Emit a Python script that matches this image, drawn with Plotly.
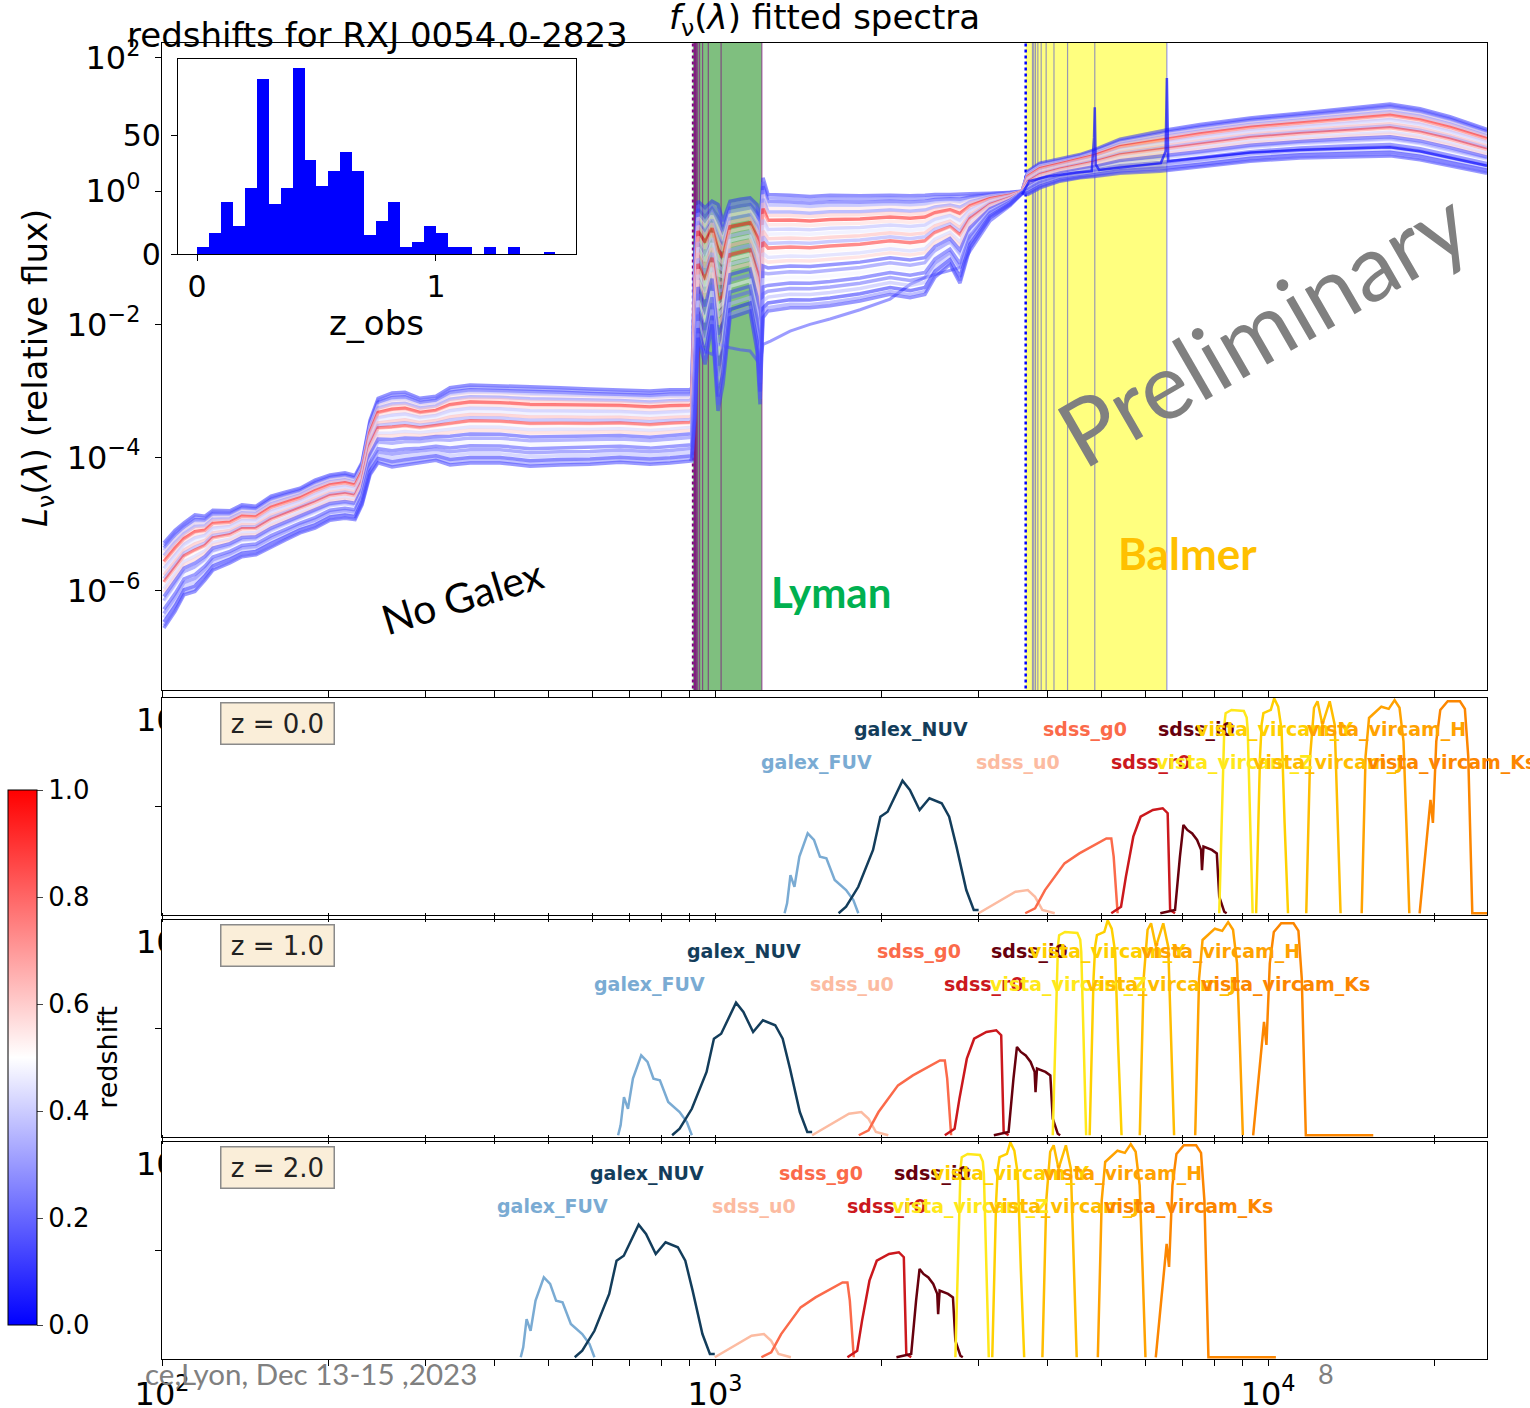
import numpy as np
import plotly.graph_objects as go
from plotly.colors import sample_colorscale

W, H = 1530, 1408
def px(x): return x / W
def py(y): return 1 - y / H

FONT = "DejaVu Sans"
BWR = [[0, "rgb(0,0,255)"], [0.5, "rgb(255,255,255)"], [1, "rgb(255,0,0)"]]

# ---------------- inset histogram (z_obs) ----------------
ZBIN_CENTER = [0.025, 0.075, 0.125, 0.175, 0.225, 0.275, 0.325, 0.375, 0.425, 0.475,
               0.525, 0.575, 0.625, 0.675, 0.725, 0.775, 0.825, 0.875, 0.925, 0.975,
               1.025, 1.075, 1.125, 1.175, 1.225, 1.275, 1.325, 1.375, 1.425, 1.475]
ZBIN_COUNT = [3, 9, 22, 12, 28, 74, 21, 28, 79, 40,
              29, 35, 43, 35, 8, 14, 22, 3, 5, 12,
              9, 3, 3, 0, 3, 0, 3, 0, 0, 1]

# ---------------- fitted spectra (log10 flux envelopes) ----------------
WAVE = [100.8, 105.6, 109.6, 114.7, 119.6, 123.6, 132.7, 139.5, 147.9, 157.5, 166.9, 177.7,
        189.1, 201.3, 214.2, 223.4, 230.0, 237.8, 245.9, 260.6, 275.0, 292.7, 312.9, 331.7,
        360.6, 408.5, 462.9, 524.4, 594.1, 673.2, 762.7, 829.2, 901.2, 908.0,
        920.1, 931.7, 959.3, 987.6, 1012.6, 1033.9, 1064.5, 1109.8, 1157.0, 1191.2, 1206.2,
        1221.3, 1247.0, 1367, 1485, 1614, 1829, 2073, 2253, 2397, 2499, 2660, 2773, 2892,
        3143, 3417, 3592, 3681, 3870, 4206, 4571, 4846, 5400, 6378, 6540, 7535, 9279,
        11430, 14070, 16620, 18830, 21330, 24890]
UPPER = [-5.28, -5.09, -4.98, -4.86, -4.88, -4.79, -4.80, -4.71, -4.73, -4.58, -4.52, -4.46,
         -4.34, -4.26, -4.23, -4.27, -4.07, -3.44, -3.11, -3.03, -3.02, -3.11, -3.08, -2.95,
         -2.91, -2.92, -2.94, -2.95, -2.97, -2.98, -3.00, -2.98, -2.98, -2.95,
         -0.90, -0.15, -0.25, -0.15, -0.20, -0.45, -0.15, -0.12, -0.10, -0.20, -0.50,
         0.20, -0.05, -0.06, -0.08, -0.06, -0.07, -0.06, -0.07, -0.06, -0.05, -0.05, -0.04, -0.04,
         -0.03, -0.02, 0.00, 0.30, 0.42, 0.48, 0.55, 0.62, 0.78, 0.90, 0.92, 1.00, 1.10,
         1.17, 1.25, 1.31, 1.24, 1.12, 0.93]
LOWER = [-6.56, -6.31, -6.06, -6.01, -5.84, -5.69, -5.58, -5.49, -5.46, -5.34, -5.24, -5.13,
         -5.06, -4.94, -4.91, -4.93, -4.71, -4.26, -4.08, -4.14, -4.11, -4.07, -4.04, -4.11,
         -4.08, -4.08, -4.13, -4.11, -4.10, -4.07, -4.10, -4.08, -4.05, -4.05,
         -3.40, -2.20, -2.60, -2.00, -3.30, -2.90, -1.90, -1.85, -1.80, -2.40, -3.20,
         -1.90, -1.80, -1.75, -1.75, -1.72, -1.65, -1.55, -1.60, -1.55, -1.29, -1.10, -1.38, -0.85,
         -0.40, -0.20, -0.03, -0.05, 0.05, 0.15, 0.20, 0.22, 0.27, 0.30, 0.31, 0.36, 0.45,
         0.50, 0.52, 0.53, 0.47, 0.38, 0.27]
# position of each plotted spectrum inside the envelope and its redshift
LINE_FRAC = [1.00, 0.97, 0.94, 0.91, 0.88, 0.85, 0.82, 0.78, 0.74, 0.70, 0.66, 0.62, 0.58,
             0.54, 0.50, 0.46, 0.42, 0.37, 0.32, 0.27, 0.22, 0.17, 0.12, 0.07, 0.03, 0.00]
LINE_Z = [0.08, 0.20, 0.12, 0.30, 0.55, 0.25, 0.62, 1.00, 0.58, 0.35, 0.45, 0.65, 0.30,
          0.95, 0.52, 0.40, 0.60, 0.10, 0.22, 0.48, 0.12, 0.18, 0.35, 0.05, 0.25, 0.10]
# lowest outlying spectrum
OUT_WAVE = [901.2, 908.0, 920.1, 931.7, 959.3, 987.6, 1012.6, 1064.5, 1109.8, 1157.0, 1206.2,
            1221.3, 1260, 1367, 1485, 1614, 1829, 2073, 2253, 2397, 2499, 2773, 2892, 3143,
            3417, 3592]
OUT_LOGF = [-4.05, -4.00, -2.80, -2.30, -2.40, -2.45, -2.30, -2.35, -2.38, -2.40, -2.60,
            -2.30, -2.25, -2.10, -2.00, -1.92, -1.78, -1.62, -1.40, -1.30, -1.25, -1.15, -0.90,
            -0.45, -0.22, -0.04]
OUT_Z = 0.15
# spectrum with Balmer emission spikes
EM_WAVE = [3592, 3700, 4000, 4500, 4800, 4846, 4861, 4880, 4950, 5500, 6400, 6530, 6563,
           6600, 7500, 9300, 11400, 14000, 16600, 18800, 21300, 24890]
EM_LOGF = [-0.05, 0.15, 0.22, 0.28, 0.30, 0.80, 1.26, 0.40, 0.32, 0.36, 0.42, 0.60, 1.70,
           0.45, 0.50, 0.58, 0.62, 0.64, 0.66, 0.60, 0.50, 0.38]
EM_Z = 0.03

LYMAN_LIMIT = 911.8
LYMAN_LINES = [918.1, 919.4, 920.9, 923.2, 926.2, 930.7, 937.8, 949.7, 972.5, 1025.7, 1215.7]
BALMER_LIMIT = 3646.0
BALMER_LINES = [3750.2, 3770.6, 3797.9, 3835.4, 3889.1, 3970.1, 4101.7, 4340.5, 4861.3, 6562.8]

# ---------------- filter transmission curves (rest frame at z=0) ----------------
FUV_WAVE = [1336, 1350, 1369, 1392, 1421, 1471, 1510, 1548, 1590, 1646, 1726, 1779, 1816]
FUV_T = [0.008, 0.054, 0.184, 0.13, 0.269, 0.376, 0.346, 0.269, 0.261, 0.161, 0.115, 0.069, 0.008]
NUV_WAVE = [1673, 1726, 1816, 1931, 1991, 2052, 2183, 2251, 2344, 2442, 2570, 2651, 2733, 2847, 2937, 2997]
NUV_T = [0.008, 0.038, 0.130, 0.30, 0.453, 0.476, 0.619, 0.576, 0.484, 0.538, 0.515, 0.453, 0.315, 0.115, 0.023, 0.023]
U0_WAVE = [2997, 3219, 3494, 3678, 3791, 3909, 4115]
U0_T = [0.008, 0.054, 0.107, 0.115, 0.084, 0.023, 0.008]
G0_WAVE = [3639, 3791, 3951, 4115, 4285, 4559, 4846, 5102, 5207, 5259, 5346]
G0_T = [0.008, 0.031, 0.115, 0.177, 0.238, 0.284, 0.323, 0.353, 0.353, 0.269, 0.008]
R0_WAVE = [5207, 5423, 5534, 5707, 5883, 6192, 6450, 6585, 6653, 6790]
R0_T = [0.008, 0.038, 0.177, 0.361, 0.453, 0.484, 0.492, 0.469, 0.023, 0.008]
I0_WAVE = [6386, 6790, 6930, 7031, 7146, 7293, 7443, 7568, 7597, 7644, 7917, 8080, 8162, 8334, 8418]
I0_T = [0.008, 0.023, 0.269, 0.415, 0.392, 0.376, 0.346, 0.30, 0.207, 0.315, 0.30, 0.284, 0.084, 0.015, 0.008]
VZ_WAVE = [8162, 8299, 8340, 8382, 8590, 9042, 9150, 9190, 9286, 9380]
VZ_T = [0.008, 0.73, 0.88, 0.93, 0.945, 0.94, 0.91, 0.853, 0.424, 0.008]
VY_WAVE = [9517, 9672, 9740, 9810, 10117, 10261, 10433, 10582, 10715, 10869]
VY_T = [0.008, 0.73, 0.88, 0.93, 0.945, 0.998, 0.96, 0.853, 0.424, 0.008]
VJ_WAVE = [11726, 11916, 12112, 12290, 12542, 12930, 13200, 13360, 13527]
VJ_T = [0.008, 0.73, 0.955, 0.985, 0.877, 0.985, 0.877, 0.424, 0.008]
VH_WAVE = [14770, 15010, 15230, 15700, 16030, 16530, 16940, 17290, 17580, 17790, 18010]
VH_T = [0.008, 0.73, 0.908, 0.94, 0.96, 0.95, 0.99, 0.955, 0.80, 0.424, 0.008]
VKS_WAVE = [18800, 19390, 19670, 19870, 20150, 20490, 21130, 22240, 22700, 23020, 23410, 31000]
VKS_T = [0.008, 0.346, 0.53, 0.424, 0.80, 0.945, 0.985, 0.985, 0.95, 0.73, 0.008, 0.008]

FILTER_NAMES = ["galex_FUV", "galex_NUV", "sdss_u0", "sdss_g0", "sdss_r0", "sdss_i0",
                "vista_vircam_Z", "vista_vircam_Y", "vista_vircam_J", "vista_vircam_H", "vista_vircam_Ks"]
FILTER_WAVES = [FUV_WAVE, NUV_WAVE, U0_WAVE, G0_WAVE, R0_WAVE, I0_WAVE, VZ_WAVE, VY_WAVE, VJ_WAVE, VH_WAVE, VKS_WAVE]
FILTER_TRANS = [FUV_T, NUV_T, U0_T, G0_T, R0_T, I0_T, VZ_T, VY_T, VJ_T, VH_T, VKS_T]
FILTER_EFF = [1523, 2259, 3533, 4667, 6140, 7413, 8710, 10260, 12830, 16400, 21500]
FILTER_ROW = [2, 1, 2, 1, 2, 1, 2, 1, 2, 1, 2]
FILTER_COLORS = ["#7aabd3", "#133d5b", "#fcbba1", "#fb6a4a", "#cb181d", "#67000d",
                 "#ffe81a", "#ffd000", "#ffbd00", "#ffa200", "#fc8600"]
PANEL_Z = [0.0, 1.0, 2.0]

TICK_VALS = [100, 200, 300, 400, 500, 600, 700, 800, 900, 1000, 2000, 3000, 4000, 5000,
             6000, 7000, 8000, 9000, 10000, 20000]
TICK_TEXT = ["10<sup>2</sup>", " ", " ", " ", " ", " ", " ", " ", " ", "10<sup>3</sup>", " ", " ", " ", " ",
             " ", " ", " ", " ", "10<sup>4</sup>", " "]

# ---------------- figure ----------------
fig = go.Figure()
X_RANGE = [2.0, 4.396]
Y_RANGE = [-7.49, 2.225]
YLO, YHI = 1e-9, 1e4

# bands
fig.add_trace(go.Scatter(x=[LYMAN_LIMIT, LYMAN_LINES[-1], LYMAN_LINES[-1], LYMAN_LIMIT, LYMAN_LIMIT],
                         y=[YLO, YLO, YHI, YHI, YLO], fill="toself", fillcolor="rgb(127,191,127)",
                         mode="lines", line=dict(width=0), hoverinfo="skip", showlegend=False))
fig.add_trace(go.Scatter(x=[BALMER_LIMIT, BALMER_LINES[-1], BALMER_LINES[-1], BALMER_LIMIT, BALMER_LIMIT],
                         y=[YLO, YLO, YHI, YHI, YLO], fill="toself", fillcolor="rgb(255,255,127)",
                         mode="lines", line=dict(width=0), hoverinfo="skip", showlegend=False))
for lam in LYMAN_LINES:
    fig.add_trace(go.Scatter(x=[lam, lam], y=[YLO, YHI], mode="lines",
                             line=dict(color="rgba(128,0,128,0.6)", width=1.2),
                             hoverinfo="skip", showlegend=False))
for lam in BALMER_LINES:
    fig.add_trace(go.Scatter(x=[lam, lam], y=[YLO, YHI], mode="lines",
                             line=dict(color="rgba(0,0,255,0.4)", width=1.2),
                             hoverinfo="skip", showlegend=False))
fig.add_trace(go.Scatter(x=[LYMAN_LIMIT, LYMAN_LIMIT], y=[YLO, YHI], mode="lines",
                         line=dict(color="purple", width=2, dash="dot"), hoverinfo="skip", showlegend=False))
fig.add_trace(go.Scatter(x=[BALMER_LIMIT, BALMER_LIMIT], y=[YLO, YHI], mode="lines",
                         line=dict(color="blue", width=2.5, dash="dot"), hoverinfo="skip", showlegend=False))

up = np.array(UPPER)
lo = np.array(LOWER)
def zcolor(z):
    return sample_colorscale(BWR, [min(max(z, 0.0), 1.0)])[0]

fig.add_trace(go.Scatter(x=OUT_WAVE, y=10 ** np.array(OUT_LOGF), mode="lines",
                         line=dict(color=zcolor(OUT_Z), width=3), opacity=0.55,
                         hoverinfo="skip", showlegend=False))
for f, z in zip(LINE_FRAC, LINE_Z):
    fig.add_trace(go.Scatter(x=WAVE, y=10 ** (lo + f * (up - lo)), mode="lines",
                             line=dict(color=zcolor(z), width=3.5), opacity=0.5,
                             hoverinfo="skip", showlegend=False))
fig.add_trace(go.Scatter(x=EM_WAVE, y=10 ** np.array(EM_LOGF), mode="lines",
                         line=dict(color=zcolor(EM_Z), width=2.5), opacity=0.7,
                         hoverinfo="skip", showlegend=False))

# colorbar carrier
fig.add_trace(go.Scatter(
    x=[1000, 1000], y=[1e-9, 1e-9], mode="markers",
    marker=dict(size=1, color=[0, 1], cmin=0, cmax=1, colorscale=BWR, showscale=True,
                colorbar=dict(x=px(8), xanchor="left", y=py(1057.5), yanchor="middle",
                              len=535 / H, lenmode="fraction", thickness=29, xpad=0, ypad=0,
                              outlinewidth=1, outlinecolor="black", ticks="outside", ticklen=6,
                              tickvals=[0, 0.2, 0.4, 0.6, 0.8, 1.0],
                              ticktext=["0.0", "0.2", "0.4", "0.6", "0.8", "1.0"],
                              tickfont=dict(size=26, family=FONT, color="black"),
                              title=dict(text="redshift", side="right",
                                         font=dict(size=27, family=FONT, color="black")))),
    hoverinfo="skip", showlegend=False))

# filter panels
for p, z in enumerate(PANEL_Z):
    ax = str(p + 2)
    for name, wv, tr, col in zip(FILTER_NAMES, FILTER_WAVES, FILTER_TRANS, FILTER_COLORS):
        fig.add_trace(go.Scatter(x=np.array(wv) / (1 + z), y=tr, mode="lines",
                                 line=dict(color=col, width=2.5), xaxis="x" + ax, yaxis="y" + ax,
                                 hoverinfo="skip", showlegend=False))
    for name, eff, row, col in zip(FILTER_NAMES, FILTER_EFF, FILTER_ROW, FILTER_COLORS):
        fig.add_annotation(x=np.log10(eff / (1 + z)), y=0.853 if row == 1 else 0.705,
                           xref="x" + ax, yref="y" + ax, text="<b>" + name + "</b>", showarrow=False,
                           font=dict(size=19, family=FONT, color=col), xanchor="center", yanchor="middle")
    ytop = [698, 920, 1142][p]
    fig.add_annotation(x=px(277.5), y=py(ytop + 25), xref="paper", yref="paper",
                       xanchor="center", yanchor="middle",
                       text="z = %.1f" % z, showarrow=False, font=dict(size=26, family=FONT, color="#222"),
                       bgcolor="rgb(250,238,217)", bordercolor="#8a8a8a", borderwidth=1.5,
                       borderpad=4, width=104, height=32)

# inset histogram
fig.add_trace(go.Bar(x=ZBIN_CENTER, y=ZBIN_COUNT, width=0.05, marker=dict(color="blue", line=dict(width=0)),
                     xaxis="x5", yaxis="y5", hoverinfo="skip", showlegend=False))

# clipped "10" labels left of filter panels
fig.add_trace(go.Scatter(x=[136, 136, 136], y=[723, 945, 1167], text=["10", "10", "10"], mode="text",
                         textposition="middle right", textfont=dict(size=32, family=FONT, color="black"),
                         cliponaxis=True, xaxis="x6", yaxis="y6", hoverinfo="skip", showlegend=False))

axis_common = dict(showgrid=False, zeroline=False, linecolor="black", linewidth=1.3,
                   ticks="outside", ticklen=6, tickcolor="black", tickwidth=1.2, automargin=False)

layout = dict(
    width=W, height=H, margin=dict(l=0, r=0, t=0, b=0, autoexpand=False),
    paper_bgcolor="white", plot_bgcolor="white",
    font=dict(family=FONT, color="black"), showlegend=False,
    xaxis=dict(axis_common, type="log", range=X_RANGE, domain=[px(162), px(1487)], anchor="y",
               tickvals=TICK_VALS, showticklabels=False, mirror=True),
    yaxis=dict(axis_common, type="log", range=Y_RANGE, domain=[py(690), py(43)], anchor="x",
               tickvals=[1e-6, 1e-4, 1e-2, 1, 100],
               ticktext=["10<sup>\u22126</sup>", "10<sup>\u22124</sup>", "10<sup>\u22122</sup>",
                         "10<sup>0</sup>", "10<sup>2</sup>"], ticklabelstandoff=8,
               tickfont=dict(size=32, family=FONT, color="black"), mirror=True),
    xaxis5=dict(axis_common, range=[-0.0795, 1.586], domain=[px(178), px(576)], anchor="y5",
                tickvals=[0, 1], ticktext=["0", "1"], tickfont=dict(size=30, family=FONT), mirror=True),
    yaxis5=dict(axis_common, range=[0, 82.6], domain=[py(254), py(59)], anchor="x5",
                tickvals=[0, 50], ticktext=["0", "50"], ticklabelstandoff=4,
                tickfont=dict(size=30, family=FONT), mirror=True),
    xaxis6=dict(range=[100, 162], domain=[px(100), px(162)], anchor="y6", visible=False, automargin=False),
    yaxis6=dict(range=[1359, 698], domain=[py(1359), py(698)], anchor="x6", visible=False, automargin=False),
    bargap=0,
)
panel_dom = [[py(915), py(698)], [py(1137), py(920)], [py(1359), py(1142)]]
for p in range(3):
    ax = str(p + 2)
    layout["xaxis" + ax] = dict(axis_common, type="log", range=X_RANGE, domain=[px(162), px(1487)],
                                anchor="y" + ax, tickvals=TICK_VALS, ticktext=TICK_TEXT,
                                showticklabels=(p == 2), mirror="ticks", tickangle=0,
                                ticklabelstandoff=0,
                                tickfont=dict(size=32, family=FONT, color="black"))
    layout["yaxis" + ax] = dict(axis_common, range=[0, 1], domain=panel_dom[p], anchor="x" + ax,
                                tickvals=[0.5], showticklabels=False, mirror=True)
fig.update_layout(**layout)

# texts
def ann(x, y, text, size, color="black", family=FONT, angle=0, xanchor="center"):
    fig.add_annotation(x=px(x), y=py(y), xref="paper", yref="paper", text=text, showarrow=False,
                       font=dict(size=size, family=family, color=color), textangle=angle,
                       xanchor=xanchor, yanchor="middle")

ann(377, 35, "redshifts for RXJ 0054.0-2823", 34)
ann(824, 19, "<i>f</i><sub>\u03bd</sub>(<i>\u03bb</i>) fitted spectra", 34)
ann(376, 323, "z_obs", 34)
ann(37, 368, "<i>L</i><sub>\u03bd</sub>(<i>\u03bb</i>) (relative flux)", 34, angle=-90)
ann(462, 596, "No Galex", 41, family="Lato", angle=-17)
ann(831, 592, "<b>Lyman</b>", 42, color="#00b050", family="Lato")
ann(1187, 553, "<b>Balmer</b>", 44, color="#ffc000", family="Lato")
ann(1262, 326, "Preliminary", 92, color="#808080", family="Lato", angle=-30)
ann(143, 1373, "ce,Lyon, Dec 13-15 ,2023", 29.5, color="#808080", family="Lato", xanchor="left")
ann(1326, 1373, "8", 27, color="#808080", family="Lato")

fig.write_html("out.html")
